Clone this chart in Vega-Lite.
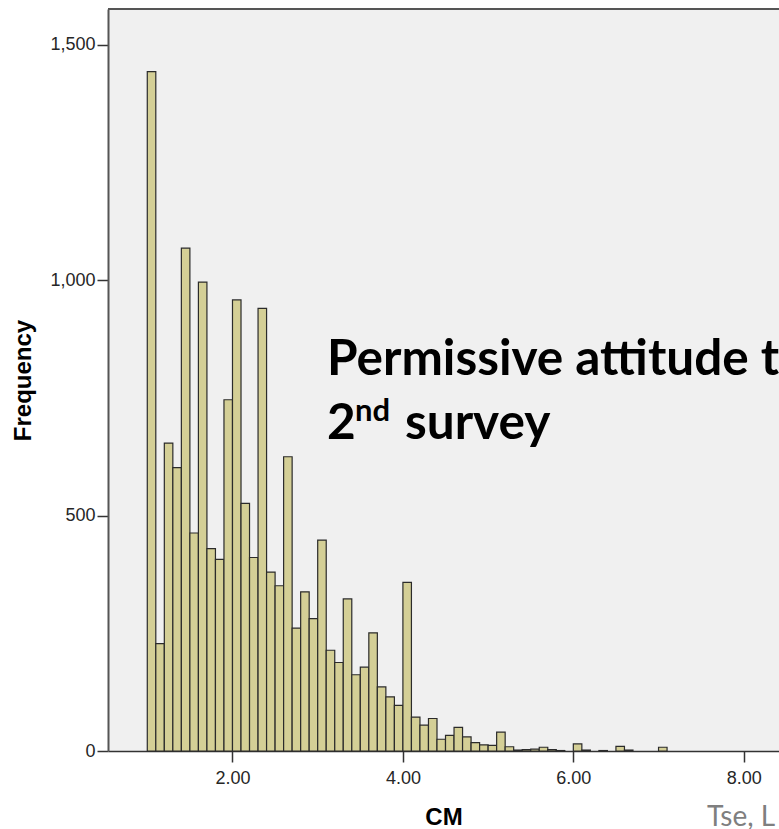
{
  "$schema": "https://vega.github.io/schema/vega-lite/v6.json",
  "width": 671,
  "height": 742,
  "autosize": {"type": "none"},
  "padding": {"left": 108, "top": 9, "right": 0, "bottom": 78},
  "background": "white",
  "config": {"view": {"fill": "#f0f0f0", "stroke": null}, "font": "Liberation Sans"},
  "resolve": {"scale": {"x": "independent", "y": "independent"}, "axis": {"x": "independent", "y": "independent"}},
  "layer": [
    {
      "data": {"values": [
        {"lo": 1.0, "hi": 1.1, "n": 1443},
        {"lo": 1.1, "hi": 1.2, "n": 228},
        {"lo": 1.2, "hi": 1.3, "n": 654},
        {"lo": 1.3, "hi": 1.4, "n": 602},
        {"lo": 1.4, "hi": 1.5, "n": 1068},
        {"lo": 1.5, "hi": 1.6, "n": 463},
        {"lo": 1.6, "hi": 1.7, "n": 996},
        {"lo": 1.7, "hi": 1.8, "n": 430},
        {"lo": 1.8, "hi": 1.9, "n": 407},
        {"lo": 1.9, "hi": 2.0, "n": 746},
        {"lo": 2.0, "hi": 2.1, "n": 958},
        {"lo": 2.1, "hi": 2.2, "n": 526},
        {"lo": 2.2, "hi": 2.3, "n": 411},
        {"lo": 2.3, "hi": 2.4, "n": 940},
        {"lo": 2.4, "hi": 2.5, "n": 380},
        {"lo": 2.5, "hi": 2.6, "n": 351},
        {"lo": 2.6, "hi": 2.7, "n": 625},
        {"lo": 2.7, "hi": 2.8, "n": 261},
        {"lo": 2.8, "hi": 2.9, "n": 338},
        {"lo": 2.9, "hi": 3.0, "n": 281},
        {"lo": 3.0, "hi": 3.1, "n": 448},
        {"lo": 3.1, "hi": 3.2, "n": 214},
        {"lo": 3.2, "hi": 3.3, "n": 188},
        {"lo": 3.3, "hi": 3.4, "n": 323},
        {"lo": 3.4, "hi": 3.5, "n": 162},
        {"lo": 3.5, "hi": 3.6, "n": 178},
        {"lo": 3.6, "hi": 3.7, "n": 251},
        {"lo": 3.7, "hi": 3.8, "n": 136},
        {"lo": 3.8, "hi": 3.9, "n": 115},
        {"lo": 3.9, "hi": 4.0, "n": 97},
        {"lo": 4.0, "hi": 4.1, "n": 358},
        {"lo": 4.1, "hi": 4.2, "n": 72},
        {"lo": 4.2, "hi": 4.3, "n": 55},
        {"lo": 4.3, "hi": 4.4, "n": 69},
        {"lo": 4.4, "hi": 4.5, "n": 25},
        {"lo": 4.5, "hi": 4.6, "n": 33},
        {"lo": 4.6, "hi": 4.7, "n": 50},
        {"lo": 4.7, "hi": 4.8, "n": 30},
        {"lo": 4.8, "hi": 4.9, "n": 18},
        {"lo": 4.9, "hi": 5.0, "n": 13},
        {"lo": 5.0, "hi": 5.1, "n": 12},
        {"lo": 5.1, "hi": 5.2, "n": 40},
        {"lo": 5.2, "hi": 5.3, "n": 9},
        {"lo": 5.3, "hi": 5.4, "n": 2},
        {"lo": 5.4, "hi": 5.5, "n": 3},
        {"lo": 5.5, "hi": 5.6, "n": 4},
        {"lo": 5.6, "hi": 5.7, "n": 8},
        {"lo": 5.7, "hi": 5.8, "n": 3},
        {"lo": 5.8, "hi": 5.9, "n": 1},
        {"lo": 6.0, "hi": 6.1, "n": 15},
        {"lo": 6.1, "hi": 6.2, "n": 2},
        {"lo": 6.3, "hi": 6.4, "n": 1},
        {"lo": 6.5, "hi": 6.6, "n": 10},
        {"lo": 6.6, "hi": 6.7, "n": 2},
        {"lo": 7.0, "hi": 7.1, "n": 8}
      ]},
      "mark": {"type": "bar", "fill": "#d4cf96", "stroke": "#2b2b2b", "strokeWidth": 1.2, "orient": "vertical"},
      "encoding": {
        "x": {
          "field": "lo", "type": "quantitative", "title": "CM",
          "scale": {"domain": [0.5977, 8.355], "nice": false, "zero": false},
          "axis": {
            "values": [2, 4, 6, 8], "format": ".2f", "grid": false,
            "labelFont": "Liberation Sans", "labelFontSize": 18, "labelColor": "#262626",
            "labelPadding": 7, "tickSize": 11, "tickColor": "#333333", "tickWidth": 1.5,
            "domainColor": "#333333", "domainWidth": 1.5,
            "titleFont": "Liberation Sans", "titleFontSize": 24, "titleFontWeight": "bold",
            "titleColor": "#000000", "titleBaseline": "alphabetic", "titleY": 73
          }
        },
        "x2": {"field": "hi"},
        "y": {
          "field": "n", "type": "quantitative", "title": "Frequency",
          "scale": {"domain": [0, 1576], "nice": false},
          "axis": {
            "values": [0, 500, 1000, 1500], "format": ",.0f", "grid": false,
            "labelFont": "Liberation Sans", "labelFontSize": 18, "labelColor": "#262626",
            "labelPadding": 2, "tickSize": 11, "tickColor": "#333333", "tickWidth": 1.5,
            "domainColor": "#555555", "domainWidth": 2,
            "titleFont": "Liberation Sans", "titleFontSize": 24, "titleFontWeight": "bold",
            "titleColor": "#000000", "titleBaseline": "alphabetic", "titleAngle": -90,
            "titleAlign": "center", "titleX": -78, "titleY": 371
          }
        },
        "y2": {"datum": 0}
      }
    },
    {
      "data": {"values": [{"edge": 1576}]},
      "mark": {"type": "rule", "stroke": "#555555", "strokeWidth": 2},
      "encoding": {
        "y": {"field": "edge", "type": "quantitative", "axis": null, "scale": {"domain": [0, 1576], "nice": false}}
      }
    },
    {
      "data": {"values": [
        {"t": "Permissive attitude towards", "px": 3.13, "py": 798.8}
      ]},
      "mark": {"type": "text", "font": "Lato", "fontWeight": "bold", "fontSize": 49.5, "align": "left", "baseline": "alphabetic", "color": "#000000", "clip": true},
      "encoding": {
        "x": {"field": "px", "type": "quantitative", "axis": null, "scale": {"domain": [0.5977, 8.355], "nice": false, "zero": false}},
        "y": {"field": "py", "type": "quantitative", "axis": null, "scale": {"domain": [0, 1576], "nice": false}},
        "text": {"field": "t"}
      }
    },
    {
      "data": {"values": [
        {"t": "2", "px": 3.13, "py": 662.8},
        {"t": "survey", "px": 4.031, "py": 662.8}
      ]},
      "mark": {"type": "text", "font": "Lato", "fontWeight": "bold", "fontSize": 49.5, "align": "left", "baseline": "alphabetic", "color": "#000000", "clip": true},
      "encoding": {
        "x": {"field": "px", "type": "quantitative", "axis": null, "scale": {"domain": [0.5977, 8.355], "nice": false, "zero": false}},
        "y": {"field": "py", "type": "quantitative", "axis": null, "scale": {"domain": [0, 1576], "nice": false}},
        "text": {"field": "t"}
      }
    },
    {
      "data": {"values": [
        {"t": "nd", "px": 3.453, "py": 701}
      ]},
      "mark": {"type": "text", "font": "Lato", "fontWeight": "bold", "fontSize": 31, "align": "left", "baseline": "alphabetic", "color": "#000000", "clip": true},
      "encoding": {
        "x": {"field": "px", "type": "quantitative", "axis": null, "scale": {"domain": [0.5977, 8.355], "nice": false, "zero": false}},
        "y": {"field": "py", "type": "quantitative", "axis": null, "scale": {"domain": [0, 1576], "nice": false}},
        "text": {"field": "t"}
      }
    },
    {
      "data": {"values": [
        {"t": "Tse, L", "px": 7.5225, "py": -159.3}
      ]},
      "mark": {"type": "text", "font": "Lato", "fontSize": 28, "align": "left", "baseline": "alphabetic", "color": "#7f7f7f"},
      "encoding": {
        "x": {"field": "px", "type": "quantitative", "axis": null, "scale": {"domain": [0.5977, 8.355], "nice": false, "zero": false}},
        "y": {"field": "py", "type": "quantitative", "axis": null, "scale": {"domain": [0, 1576], "nice": false}},
        "text": {"field": "t"}
      }
    }
  ]
}
